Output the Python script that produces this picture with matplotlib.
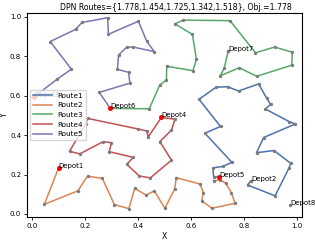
import matplotlib
matplotlib.use("Agg")
import matplotlib.pyplot as plt

# Depot coordinates
depot_names = ["Depot1", "Depot2", "Depot3", "Depot4", "Depot5", "Depot6", "Depot7", "Depot8"]
depot_x = [0.099, 0.825, 0.007, 0.487, 0.706, 0.294, 0.739, 0.972]
depot_y = [0.235, 0.168, 0.595, 0.490, 0.186, 0.536, 0.825, 0.046]
depot_used = [True, False, True, True, True, True, False, False]

route_names = ["Route1", "Route2", "Route3", "Route4", "Route5"]
route_colors = ["#4C72B0", "#DD8452", "#55A868", "#C44E52", "#8172B3"]

route1_x = [0.706, 0.684, 0.681, 0.718, 0.753, 0.651, 0.710, 0.629, 0.693, 0.737, 0.778, 0.854,
            0.884, 0.899, 0.879, 0.969, 0.993, 0.873, 0.846, 0.912, 0.975, 0.969, 0.916, 0.812, 0.825]
route1_y = [0.186, 0.190, 0.234, 0.241, 0.262, 0.410, 0.444, 0.582, 0.643, 0.646, 0.624, 0.660,
            0.588, 0.556, 0.533, 0.469, 0.457, 0.388, 0.311, 0.322, 0.257, 0.234, 0.092, 0.147, 0.168]

route2_x = [0.099, 0.045, 0.171, 0.208, 0.264, 0.309, 0.364, 0.386, 0.429, 0.460, 0.500, 0.537,
            0.543, 0.633, 0.645, 0.639, 0.678, 0.765, 0.751, 0.729, 0.708, 0.684]
route2_y = [0.235, 0.049, 0.117, 0.192, 0.180, 0.048, 0.027, 0.130, 0.096, 0.117, 0.029, 0.127,
            0.184, 0.152, 0.108, 0.066, 0.029, 0.054, 0.108, 0.157, 0.173, 0.169]

route3_x = [0.294, 0.441, 0.481, 0.506, 0.507, 0.606, 0.619, 0.604, 0.538, 0.569, 0.746, 0.842,
            0.914, 0.981, 0.979, 0.847, 0.780, 0.709, 0.724, 0.739]
route3_y = [0.536, 0.534, 0.655, 0.680, 0.750, 0.727, 0.786, 0.911, 0.965, 0.984, 0.981, 0.818,
            0.847, 0.821, 0.755, 0.699, 0.742, 0.701, 0.740, 0.825]

route4_x = [0.487, 0.538, 0.525, 0.481, 0.525, 0.445, 0.403, 0.356, 0.381, 0.290, 0.298, 0.267,
            0.179, 0.140, 0.202, 0.208, 0.400, 0.432, 0.437, 0.487]
route4_y = [0.490, 0.481, 0.426, 0.367, 0.273, 0.183, 0.193, 0.252, 0.287, 0.316, 0.362, 0.367,
            0.305, 0.318, 0.459, 0.485, 0.431, 0.421, 0.391, 0.490]

route5_x = [0.007, 0.094, 0.147, 0.067, 0.163, 0.187, 0.284, 0.287, 0.400, 0.431, 0.460, 0.381,
            0.356, 0.325, 0.321, 0.363, 0.368, 0.252, 0.294]
route5_y = [0.595, 0.685, 0.735, 0.875, 0.937, 0.972, 0.996, 0.912, 0.978, 0.878, 0.824, 0.847,
            0.847, 0.806, 0.734, 0.719, 0.664, 0.617, 0.536]

routes_x = [route1_x, route2_x, route3_x, route4_x, route5_x]
routes_y = [route1_y, route2_y, route3_y, route4_y, route5_y]

title = "DPN Routes={1.778,1.454,1.725,1.342,1.518}, Obj.=1.778"

fig = plt.figure(figsize=(3.15, 2.40), dpi=100)
ax = fig.add_axes([0.087, 0.097, 0.872, 0.848])

for rx, ry, name, col in zip(routes_x, routes_y, route_names, route_colors):
    ax.plot(rx, ry, color=col, lw=1.1, label=name, zorder=2)
    ax.plot(rx, ry, 'o', color='#7a7a7a', ms=2.4, mec='none', zorder=3)

for nm, x, y, used in zip(depot_names, depot_x, depot_y, depot_used):
    ax.plot([x], [y], 'o', color='red' if used else '#7a7a7a', ms=3.6 if used else 2.4,
            mec='none', zorder=4)
    ax.text(x, y, nm, fontsize=5, zorder=5)

ax.set_xlim(-0.019, 1.018)
ax.set_ylim(-0.014, 1.019)
ax.set_xticks([0.0, 0.2, 0.4, 0.6, 0.8, 1.0])
ax.set_yticks([0.0, 0.2, 0.4, 0.6, 0.8, 1.0])
ax.tick_params(labelsize=5, length=2.5, width=0.6, pad=2)
for s in ax.spines.values():
    s.set_linewidth(0.8)
ax.set_xlabel("X", fontsize=5.5, labelpad=2)
ax.set_ylabel("Y", fontsize=5.5, labelpad=1)
ax.set_title(title, fontsize=5.6, pad=2.5, x=0.54)
ax.legend(loc='center left', fontsize=5.2, handlelength=2.6, framealpha=0.8,
          borderaxespad=0.4)

fig.savefig("out.png", dpi=100)
